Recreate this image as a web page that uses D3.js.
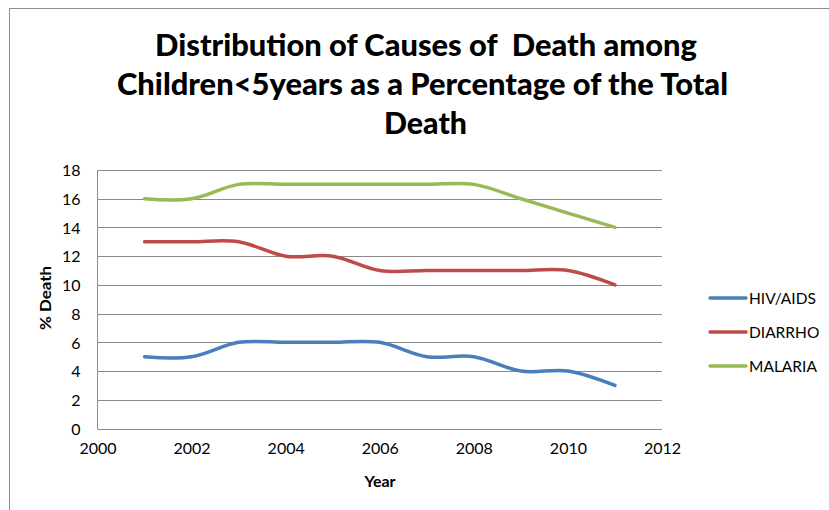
<!DOCTYPE html>
<html>
<head>
<meta charset="utf-8">
<script src="https://cdn.jsdelivr.net/npm/d3@7"></script>
<style>
  html, body { margin: 0; padding: 0; background: #fff; }
  svg { display: block; }
  text { font-family: Lato, "Open Sans", sans-serif; fill: #000; }
</style>
</head>
<body>
<svg id="chart" width="829" height="510"></svg>
<script>
// Data
const years = [2001, 2002, 2003, 2004, 2005, 2006, 2007, 2008, 2009, 2010, 2011];
const hivAids = [5, 5, 6, 6, 6, 6, 5, 5, 4, 4, 3];
const diarrho = [13, 13, 13, 12, 12, 11, 11, 11, 11, 11, 10];
const malaria = [16, 16, 17, 17, 17, 17, 17, 17, 16, 15, 14];
const seriesNames = ["HIV/AIDS", "DIARRHO", "MALARIA"];
const seriesColors = ["#4a7ebb", "#be4b48", "#98b954"];
const xTicks = [2000, 2002, 2004, 2006, 2008, 2010, 2012];
const yTicks = [0, 2, 4, 6, 8, 10, 12, 14, 16, 18];
const titleLines = [
  "Distribution of Causes of  Death among",
  "Children<5years as a Percentage of the Total",
  "Death"
];

const svg = d3.select("#chart");

// Outer chart frame
svg.append("rect")
  .attr("x", 9.5).attr("y", 8.5)
  .attr("width", 900).attr("height", 600)
  .attr("fill", "none").attr("stroke", "#8c8c8c").attr("stroke-width", 1);

// Title
const titleY = [56, 95, 134];
const titleW = [542, 611, 83];
const titleX = [426, 422.5, 425.5];
svg.append("g").selectAll("text")
  .data(titleLines)
  .join("text")
  .attr("x", (d, i) => titleX[i])
  .attr("y", (d, i) => titleY[i])
  .attr("text-anchor", "middle")
  .attr("font-weight", 900)
  .attr("font-size", 30)
  .attr("textLength", (d, i) => titleW[i])
  .attr("lengthAdjust", "spacingAndGlyphs")
  .style("white-space", "pre")
  .text(d => d);

// Scales
const x = d3.scaleLinear().domain([2000, 2012]).range([97.5, 662]);
const y = d3.scaleLinear().domain([0, 18]).range([428.5, 170]);

// Horizontal gridlines
svg.append("g").selectAll("line")
  .data(yTicks)
  .join("line")
  .attr("x1", x(2000)).attr("x2", x(2012))
  .attr("y1", d => Math.round(y(d)) + 0.5).attr("y2", d => Math.round(y(d)) + 0.5)
  .attr("stroke", "#8a8a8a").attr("stroke-width", 1);

// Left axis line
svg.append("line")
  .attr("x1", 97.5).attr("x2", 97.5)
  .attr("y1", y(18)).attr("y2", y(0) + 0.5)
  .attr("stroke", "#8a8a8a").attr("stroke-width", 1);

// Y tick labels
const yAxis = d3.axisLeft(y).tickValues(yTicks).tickSize(0).tickPadding(17);
const gy = svg.append("g").attr("transform", "translate(97.5,0)").call(yAxis);
gy.select(".domain").remove();
gy.selectAll("text")
  .attr("font-size", 16)
  .attr("dy", "0.36em")
  .style("font-family", "Lato, sans-serif")
  .attr("fill", "#000");

// X tick labels
const xAxis = d3.axisBottom(x).tickValues(xTicks).tickFormat(d3.format("d")).tickSize(0).tickPadding(14);
const gx = svg.append("g").attr("transform", "translate(0,428.5)").call(xAxis);
gx.select(".domain").remove();
gx.selectAll("text")
  .attr("font-size", 16)
  .style("font-family", "Lato, sans-serif")
  .attr("fill", "#000");

// Axis titles
svg.append("text")
  .attr("x", 380).attr("y", 487)
  .attr("text-anchor", "middle")
  .attr("font-weight", "bold")
  .attr("font-size", 16)
  .text("Year");

svg.append("text")
  .attr("transform", "translate(51,298) rotate(-90)")
  .attr("text-anchor", "middle")
  .attr("font-weight", "bold")
  .attr("font-size", 16)
  .attr("textLength", 64)
  .attr("lengthAdjust", "spacingAndGlyphs")
  .text("% Death");

// Smoothed series lines
const allSeries = [hivAids, diarrho, malaria];
const line = d3.line()
  .x((d, i) => x(years[i]))
  .y(d => y(d))
  .curve(d3.curveCatmullRom.alpha(0));

svg.append("g").selectAll("path")
  .data(allSeries)
  .join("path")
  .attr("d", d => line(d))
  .attr("fill", "none")
  .attr("stroke", (d, i) => seriesColors[i])
  .attr("stroke-width", 3.5)
  .attr("stroke-linecap", "round")
  .attr("stroke-linejoin", "round");

// Legend
const legendY = [298, 332, 366];
const legend = svg.append("g").selectAll("g")
  .data(seriesNames)
  .join("g")
  .attr("transform", (d, i) => `translate(0,${legendY[i]})`);
legend.append("line")
  .attr("x1", 710).attr("x2", 746)
  .attr("y1", 0).attr("y2", 0)
  .attr("stroke", (d, i) => seriesColors[i])
  .attr("stroke-width", 3.5)
  .attr("stroke-linecap", "round");
legend.append("text")
  .attr("x", 749).attr("y", 0)
  .attr("dy", "0.36em")
  .attr("font-size", 15.5)
  .text(d => d);
</script>
</body>
</html>
